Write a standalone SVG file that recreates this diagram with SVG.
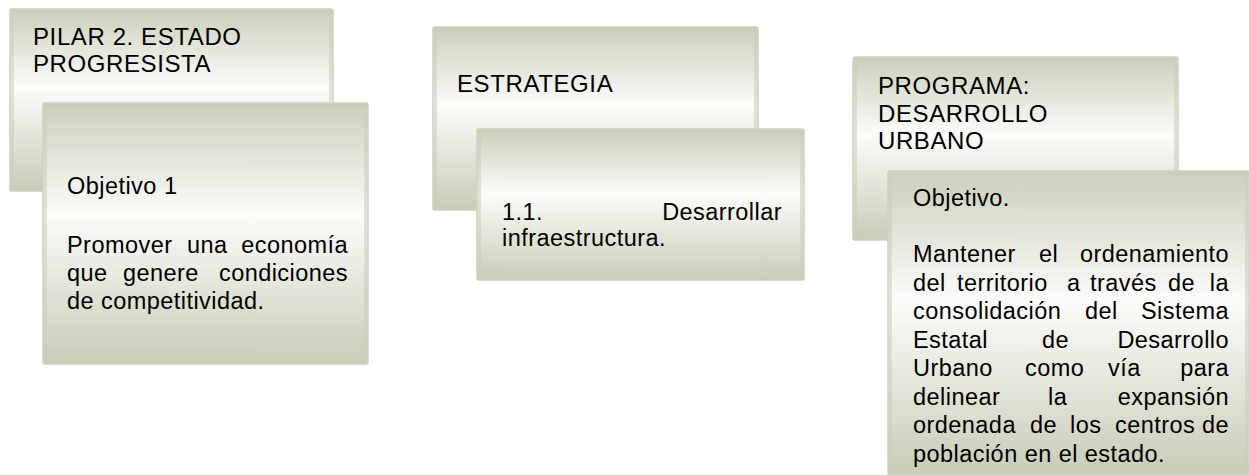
<svg xmlns="http://www.w3.org/2000/svg" width="1249" height="475" viewBox="0 0 1249 475">
<defs>
<linearGradient id="g" x1="0" y1="0" x2="0" y2="1">
<stop offset="0" stop-color="#cbcfbc"/>
<stop offset="0.43" stop-color="#fcfcfa"/>
<stop offset="1" stop-color="#c8ccb8"/>
</linearGradient>
</defs>
<style>
.box{fill:url(#g);stroke:#cdd1bf;stroke-width:1.5}
.edge{fill:none;stroke:#c9cdba;stroke-opacity:0.55;stroke-width:3}
text{font-family:"Liberation Sans",Arial,sans-serif;font-size:23.5px;letter-spacing:0.45px;fill:#000}
.h{font-size:24px;letter-spacing:0.6px}
.e{text-anchor:end}
</style>
<rect width="1249" height="475" fill="#fff"/>
<g id="connectors"/>
<g id="pilar">
<rect class="box" x="10" y="9" width="323" height="182" rx="2"/>
<rect class="edge" x="12.5" y="11.5" width="318" height="177"/>
<text class="h" x="33" y="45">PILAR 2. ESTADO</text>
<text class="h" x="33" y="72">PROGRESISTA</text>
</g>
<g id="objetivo1">
<rect class="box" x="43" y="103" width="325" height="261" rx="2"/>
<rect class="edge" x="45.5" y="105.5" width="320" height="256"/>
<text y="194"><tspan x="67">Objetivo</tspan><tspan x="164">1</tspan></text>
<text y="253"><tspan x="67">Promover</tspan><tspan x="187">una</tspan></text>
<text class="e" x="348" y="253">economía</text>
<text y="281"><tspan x="67">que</tspan><tspan x="123">genere</tspan></text>
<text class="e" x="348" y="281">condiciones</text>
<text x="67" y="309">de competitividad.</text>
</g>
<g id="estrategia">
<rect class="box" x="433" y="27" width="325" height="183" rx="2"/>
<rect class="edge" x="435.5" y="29.5" width="320" height="178"/>
<text class="h" x="457" y="92">ESTRATEGIA</text>
</g>
<g id="estrategia11">
<rect class="box" x="477" y="129" width="327" height="151" rx="2"/>
<rect class="edge" x="479.5" y="131.5" width="322" height="146"/>
<text x="502" y="220">1.1.</text>
<text class="e" x="782" y="220">Desarrollar</text>
<text x="502" y="246">infraestructura.</text>
</g>
<g id="programa">
<rect class="box" x="853" y="57" width="325" height="183" rx="2"/>
<rect class="edge" x="855.5" y="59.5" width="320" height="178"/>
<text class="h" x="878" y="94">PROGRAMA:</text>
<text class="h" x="878" y="122">DESARROLLO</text>
<text class="h" x="878" y="149">URBANO</text>
</g>
<g id="objetivo-programa">
<rect class="box" x="888" y="171" width="361" height="304" rx="2"/>
<rect class="edge" x="890.5" y="173.5" width="356" height="299"/>
<text x="913" y="206">Objetivo.</text>
<text y="262"><tspan x="913">Mantener</tspan><tspan x="1039">el</tspan></text>
<text class="e" x="1229" y="262">ordenamiento</text>
<text y="290.5"><tspan x="913">del</tspan><tspan x="957">territorio</tspan><tspan x="1067">a</tspan><tspan x="1090">través</tspan><tspan x="1168">de</tspan></text>
<text class="e" x="1229" y="290.5">la</text>
<text y="319"><tspan x="913">consolidación</tspan><tspan x="1085">del</tspan></text>
<text class="e" x="1229" y="319">Sistema</text>
<text y="347.5"><tspan x="913">Estatal</tspan><tspan x="1042">de</tspan></text>
<text class="e" x="1229" y="347.5">Desarrollo</text>
<text y="376"><tspan x="913">Urbano</tspan><tspan x="1025">como</tspan><tspan x="1108">vía</tspan></text>
<text class="e" x="1229" y="376">para</text>
<text y="404.5"><tspan x="913">delinear</tspan><tspan x="1048">la</tspan></text>
<text class="e" x="1229" y="404.5">expansión</text>
<text y="433"><tspan x="913">ordenada</tspan><tspan x="1030">de</tspan><tspan x="1070">los</tspan><tspan x="1115">centros</tspan></text>
<text class="e" x="1229" y="433">de</text>
<text x="913" y="461.5">población en el estado.</text>
</g>
</svg>
